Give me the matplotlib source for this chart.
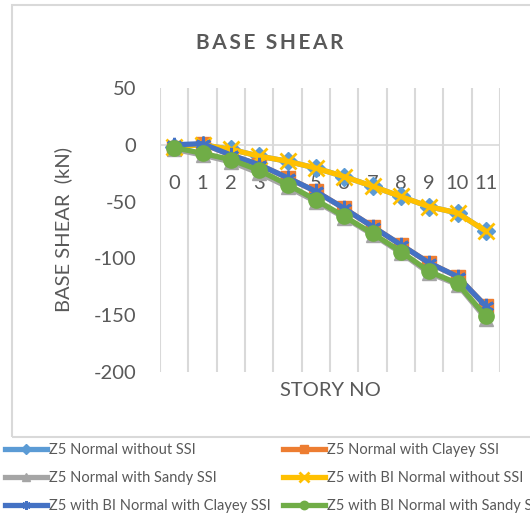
import numpy as np
import matplotlib as mp
import matplotlib.pyplot as plt

stories = [str(i) for i in range(12)]
z5_no_ssi = [-1.5, 0, -4, -10, -14.5, -20.5, -28, -36.5, -45.5, -54.5, -60, -76]
z5_clayey = [-3, 1, -9, -17.5, -29, -41, -56, -72, -88, -104, -116, -142]
z5_sandy = [-4, -9, -15, -25, -37, -50, -64, -79, -95, -113, -123, -153]
z5bi_no_ssi = [-1.5, 0, -4, -10, -14.5, -20.5, -28, -36.5, -45.5, -54.5, -60, -76]
z5bi_clayey = [0, 1, -9, -17.5, -29, -41, -56, -72, -88, -104, -116, -142]
z5bi_sandy = [-2.5, -7.5, -13, -22.5, -35, -48.5, -63, -78, -94, -111.5, -122, -151]

names = ["Z5 Normal without SSI", "Z5 Normal with Clayey SSI",
         "Z5 Normal with Sandy SSI", "Z5 with BI Normal without SSI",
         "Z5 with BI Normal with Clayey SSI", "Z5 with BI Normal with Sandy SSI"]
series = [z5_no_ssi, z5_clayey, z5_sandy, z5bi_no_ssi, z5bi_clayey, z5bi_sandy]
colors = ["#5B9BD5", "#ED7D31", "#A5A5A5", "#FFC000", "#4472C4", "#70AD47"]
markers = ["D", "s", "^", "x", (6, 2, 0), "o"]
msizes = [9, 10, 10, 12, 11, 11]

plt.rcParams['font.family'] = ['Lato', 'DejaVu Sans']
plt.rcParams['axes.unicode_minus'] = False
txt = "#595959"

fig = plt.figure(figsize=(5.3, 5.17), dpi=100)
ax = fig.add_axes([160/530, 1-372/517, 340/530, 284/517])

# chart frame
fig.add_artist(mp.patches.Rectangle((12/530, 1-437/517), 1.0, 432/517,
                                    transform=fig.transFigure, fill=False,
                                    edgecolor="#D9D9D9", lw=1.5))

x = np.arange(len(stories))
handles = []
for s, n, c, m, ms in zip(series, names, colors, markers, msizes):
    mew = 2 if m in ("x", (6, 2, 0)) else 1
    h, = ax.plot(x, s, color=c, lw=3.8, marker=m, markersize=ms,
                 markeredgewidth=mew, markeredgecolor=c, label=n, zorder=3)
    handles.append(h)

ax.set_xlim(-0.5, len(stories) - 0.5)
ax.set_ylim(-200, 50)
ax.set_yticks(np.arange(-200, 51, 50))
ax.set_xticks(np.arange(len(stories) + 1) - 0.5)
ax.xaxis.grid(True, color="#D9D9D9", lw=1.5)
ax.set_xticklabels([])
ax.tick_params(axis='x', length=0)
ax.tick_params(axis='y', length=0, pad=17, labelsize=14.5, labelcolor=txt)
for sp in ax.spines.values():
    sp.set_visible(False)
ax.axhline(0, color="#D9D9D9", lw=1.2, zorder=1)

for i, lab in enumerate(stories):
    ax.annotate(lab, (i, 0), xytext=(0, -28), textcoords='offset points',
                ha='center', va='center', fontsize=14.5, color=txt, zorder=2)

ax.set_ylabel("BASE SHEAR  (kN)", fontsize=14.5, color=txt, labelpad=15.5)
ax.set_xlabel("STORY NO", fontsize=14.5, color=txt, labelpad=4)

fig.text(270/530, 1-43/517, "B\u2009A\u2009S\u2009E\u2009 \u2009S\u2009H\u2009E\u2009A\u2009R",
         ha='center', va='center', fontsize=15, fontweight='bold', color=txt)

order = [0, 2, 4, 1, 3, 5]
fig.legend([handles[i] for i in order], [names[i] for i in order], ncol=2,
           loc='upper left', bbox_to_anchor=(5/530, 1-443/517), frameon=False,
           fontsize=10.5, labelcolor=txt, handlelength=2.9, handletextpad=0.15,
           columnspacing=0.8, labelspacing=0.95, markerscale=0.55,
           borderaxespad=0, borderpad=0)

plt.savefig("out.png", dpi=100, facecolor='w')
